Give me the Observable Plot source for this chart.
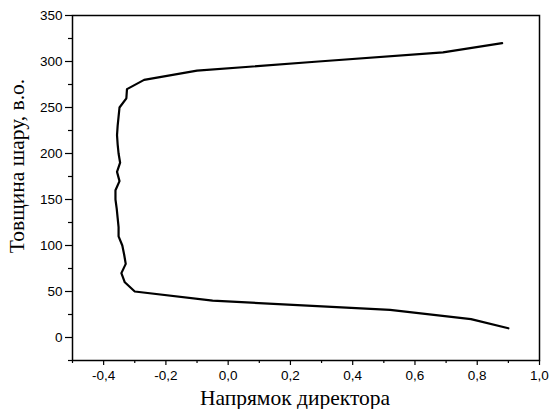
<!DOCTYPE html>
<html>
<head>
<meta charset="utf-8">
<script src="https://cdn.jsdelivr.net/npm/d3@7"></script>
<script src="https://cdn.jsdelivr.net/npm/@observablehq/plot@0.6"></script>
<style>
  html, body { margin: 0; padding: 0; background: #fff; }
</style>
</head>
<body>
<div id="chart"></div>
<script>
// Layer thickness (y) and director orientation (x)
const thickness = [10, 20, 30, 40, 50, 60, 70, 80, 90, 100, 110, 120, 130, 140, 150, 160,
  170, 180, 190, 200, 210, 220, 230, 240, 250, 260, 270, 280, 290, 300, 310, 320];
const director = [0.90, 0.78, 0.52, -0.05, -0.30, -0.332, -0.343, -0.329, -0.334, -0.340, -0.352, -0.352, -0.355, -0.358, -0.362, -0.362,
  -0.349, -0.357, -0.347, -0.352, -0.355, -0.357, -0.355, -0.352, -0.349, -0.327, -0.325, -0.27, -0.10, 0.29, 0.69, 0.88];

const xMajor = [-0.4, -0.2, 0.0, 0.2, 0.4, 0.6, 0.8, 1.0];
const xMinor = [-0.5, -0.3, -0.1, 0.1, 0.3, 0.5, 0.7, 0.9];
const yMajor = [0, 50, 100, 150, 200, 250, 300, 350];
const yMinor = [-25, 25, 75, 125, 175, 225, 275, 325];

const xTitle = "Напрямок директора";
const yTitle = "Товщина шару, в.о.";

const data = thickness.map((t, i) => ({x: director[i], y: t}));

const plot = Plot.plot({
  width: 549,
  height: 409,
  marginLeft: 72,
  marginRight: 10,
  marginTop: 15,
  marginBottom: 49,
  style: {fontFamily: "'Liberation Sans', Arial, sans-serif", fontSize: "13.5px", color: "black", background: "white"},
  x: {domain: [-0.5, 1.0]},
  y: {domain: [-25, 350]},
  marks: [
    Plot.axisX(xMinor, {tickSize: 3, tickFormat: () => "", label: null, strokeWidth: 1.2}),
    Plot.axisX(xMajor, {tickSize: 5, tickPadding: 5, tickFormat: d => d.toFixed(1).replace(".", ","), label: null, strokeWidth: 1.2}),
    Plot.axisY(yMinor, {tickSize: 4, tickFormat: () => "", label: null, strokeWidth: 1.2}),
    Plot.axisY(yMajor, {tickSize: 7, tickPadding: 3, tickFormat: d => String(d), label: null, strokeWidth: 1.2}),
    Plot.frame({stroke: "black", strokeWidth: 1.5}),
    Plot.line(data, {x: "x", y: "y", stroke: "black", strokeWidth: 2.2, strokeLinejoin: "round"}),
    Plot.text([xTitle], {frameAnchor: "bottom", dx: -11, dy: 38, lineAnchor: "middle", textAnchor: "middle",
      fontFamily: "'Liberation Serif', 'Times New Roman', serif", fontSize: 21.5, fill: "black"}),
    Plot.text([yTitle], {frameAnchor: "left", dx: -55, dy: -22, rotate: -90, lineAnchor: "middle", textAnchor: "middle",
      fontFamily: "'Liberation Serif', 'Times New Roman', serif", fontSize: 21.5, fill: "black"})
  ]
});
document.getElementById("chart").appendChild(plot);
</script>
</body>
</html>
